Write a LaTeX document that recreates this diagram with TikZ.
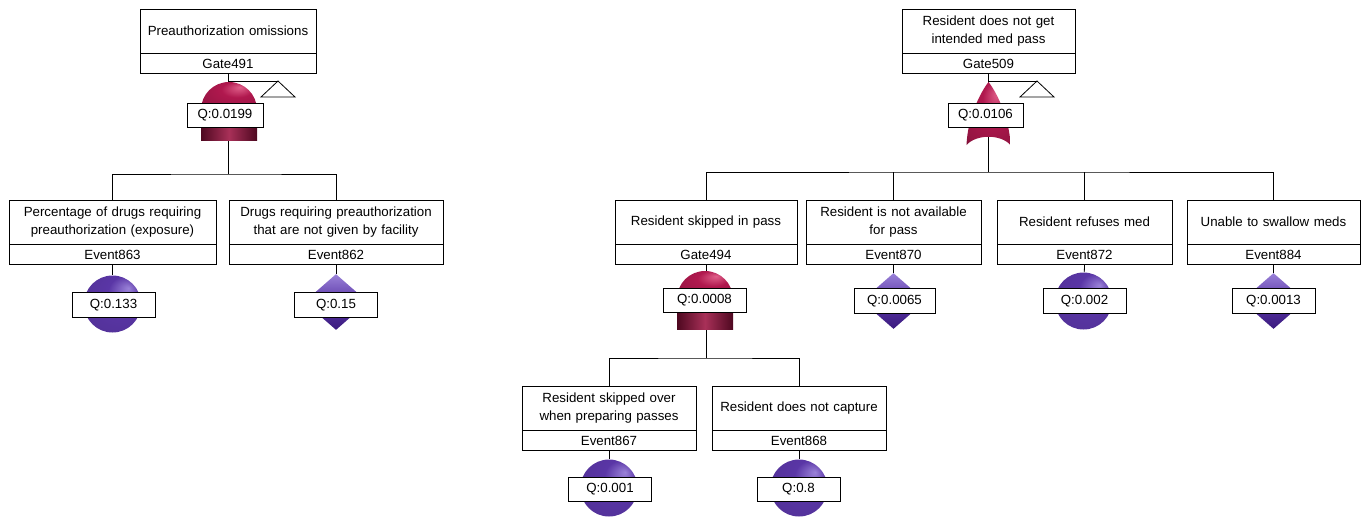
\documentclass[tikz,border=0pt]{standalone}
\usepackage{fontspec}
\setmainfont{Liberation Sans}
\usetikzlibrary{shapes.geometric}
\definecolor{evpurple}{HTML}{5A36A6}
\definecolor{evlight}{HTML}{9A82D8}
\definecolor{evdark}{HTML}{3A1A7E}
\definecolor{gred}{HTML}{B0184E}
\definecolor{glight}{HTML}{E0608A}
\definecolor{gdark}{HTML}{4E0820}
\definecolor{gmid}{HTML}{A83058}
\pgfdeclareradialshading{evsh}{\pgfpoint{14bp}{14bp}}{color(0bp)=(evlight); color(14bp)=(evpurple); color(34bp)=(evpurple!92!black); color(50bp)=(evdark)}
\pgfdeclareradialshading{gsh}{\pgfpoint{10bp}{16bp}}{color(0bp)=(glight); color(14bp)=(gred); color(34bp)=(gred!85!black); color(50bp)=(gdark)}
\newcommand{\fsz}{\fontsize{13.3}{17.5}\selectfont}
\newcommand{\ftbox}[6]{%
  \node[boxtop, text width=#4] (#1t) at (#2,#3) {#5};
  \node[boxbot, minimum width=#4] (#1b) at (#1t.south) {#6};
}
\newcommand{\andgate}[2]{%
  \shade[shading=gsh] ({#1-28},{#2+28}) .. controls ({#1-28},{#2+12.5}) and ({#1-15.5},{#2}) .. ({#1},{#2})
     .. controls ({#1+15.5},{#2}) and ({#1+28},{#2+12.5}) .. ({#1+28},{#2+28}) -- cycle;
  \shade[left color=gdark, right color=gdark, middle color=gmid] ({#1-28},{#2+28}) rectangle ({#1+28},{#2+58});
}
\newcommand{\orgate}[2]{%
  \shade[shading=gsh] ({#1},{#2}) .. controls ({#1-8},{#2+10}) and ({#1-21},{#2+36}) .. ({#1-22},{#2+63})
     .. controls ({#1-12},{#2+52}) and ({#1+12},{#2+52}) .. ({#1+22},{#2+63})
     .. controls ({#1+21},{#2+36}) and ({#1+8},{#2+10}) .. cycle;
}
\begin{document}
\begin{tikzpicture}[x=1pt,y=-1pt,line width=0.8pt,
  boxtop/.style={draw, fill=white, anchor=north, align=center, inner xsep=0pt, inner ysep=0pt, minimum height=43.5, font=\fsz},
  boxbot/.style={draw, fill=white, anchor=north, inner sep=0pt, minimum height=19.5, font=\fsz},
  qbox/.style={draw, fill=white, inner sep=0pt, minimum width=83, minimum height=24.5, font=\fsz},
  evball/.style={circle, minimum size=57, inner sep=0pt, shading=evsh},
  evdiam/.style={diamond, minimum width=64, minimum height=56, inner sep=0pt, top color=evlight, bottom color=evdark, middle color=evpurple}]
\useasboundingbox (0,0) rectangle (1363,517);

% boxes
\ftbox{g491}{228}{9}{176}{Preauthorization omissions}{Gate491}
\ftbox{g509}{988.5}{9}{173}{Resident does not get\\intended med pass}{Gate509}
\ftbox{e863}{112.5}{200}{207}{Percentage of drugs requiring\\preauthorization (exposure)}{Event863}
\ftbox{e862}{336}{200}{214}{Drugs requiring preauthorization\\that are not given by facility}{Event862}
\ftbox{g494}{706}{200}{182}{Resident skipped in pass}{Gate494}
\ftbox{e870}{893.5}{200}{175}{Resident is not available\\for pass}{Event870}
\ftbox{e872}{1084.5}{200}{175}{Resident refuses med}{Event872}
\ftbox{e884}{1273.5}{200}{173}{Unable to swallow meds}{Event884}
\ftbox{e867}{609}{386}{174}{Resident skipped over\\when preparing passes}{Event867}
\ftbox{e868}{799}{386}{174}{Resident does not capture}{Event868}

% junctions
\coordinate (j491) at (228,174);
\coordinate (j509) at (988.5,172);
\coordinate (j494) at (706,358);
\coordinate (t491) at (278,81);
\coordinate (t509) at (1037,81);

% connectors
\draw (g491b.south) -- (j491);
\draw (e863t.north) |- (j491) -| (e862t.north);
\draw (g509b.south) -- (j509);
\draw (g494t.north) |- (j509) -| (e884t.north);
\draw (e870t.north) -- (e870t.north |- j509);
\draw (e872t.north) -- (e872t.north |- j509);
\draw (g494b.south) -- (j494);
\draw (e867t.north) |- (j494) -| (e868t.north);

% transfer symbols
\draw (g491b.south |- t491) -- (t491);
\draw (t491) -- ++(-17,16) -- ++(34,0) -- cycle;
\draw (g509b.south |- t509) -- (t509);
\draw (t509) -- ++(-17,16) -- ++(34,0) -- cycle;

% gates
\andgate{229}{82}
\node[qbox, minimum width=76] (q491) at (225,115.5) {Q:0.0199};
\orgate{988.5}{82}
\node[qbox, minimum width=75] (q509) at (985.5,115.5) {Q:0.0106};
\andgate{705}{271}
\node[qbox] (q494) at (704.5,300.5) {Q:0.0008};

% basic events
\node[evball] (s863) at (112.5,304) {};
\node[evdiam] (s862) at (336,302) {};
\node[evdiam] (s870) at (893.5,301) {};
\node[evball] (s872) at (1083.5,301) {};
\node[evdiam] (s884) at (1273.5,301) {};
\node[evball] (s867) at (609,488) {};
\node[evball] (s868) at (799,488) {};
\foreach \e in {863,862,870,872,884,867,868} \draw (e\e b.south) -- (s\e);

\node[qbox] (q863) at (113.5,305) {Q:0.133};
\node[qbox] (q862) at (336,305) {Q:0.15};
\node[qbox, minimum width=81] (q870) at (894.5,301) {Q:0.0065};
\node[qbox] (q872) at (1084.5,301) {Q:0.002};
\node[qbox] (q884) at (1273.5,301) {Q:0.0013};
\node[qbox] (q867) at (610,489.5) {Q:0.001};
\node[qbox] (q868) at (798.5,489.5) {Q:0.8};
\end{tikzpicture}
\end{document}
